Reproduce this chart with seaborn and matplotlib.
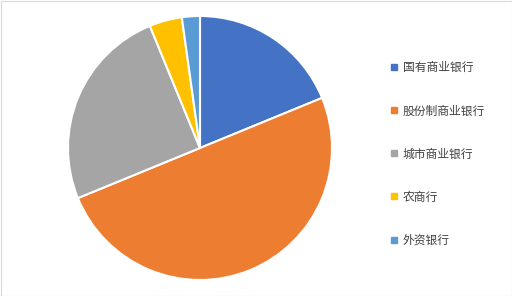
import matplotlib
matplotlib.use("Agg")
import matplotlib.pyplot as plt
import seaborn as sns
from matplotlib.patches import Rectangle
from matplotlib.lines import Line2D

categories = ["国有商业银行", "股份制商业银行", "城市商业银行", "农商行", "外资银行"]
values = [18.8, 50.0, 25.0, 4.0, 2.2]
colors = ["#4472C4", "#ED7D31", "#A5A5A5", "#FFC000", "#5B9BD5"]

sns.set_theme(style="white")
plt.rcParams['font.family'] = ['Noto Sans CJK SC', 'DejaVu Sans']

W, H = 512, 296
fig = plt.figure(figsize=(W / 100, H / 100), dpi=100)
fig.patch.set_facecolor("white")
fig.add_artist(Rectangle((0.5 / W, 0.5 / H), 1 - 1.0 / W, 1 - 1.0 / H,
                         transform=fig.transFigure, fill=False,
                         edgecolor="#D9D9D9", linewidth=0.8))

cx, cy, r = 200, 148, 132
ax = fig.add_axes([(cx - r) / W, (H - cy - r) / H, 2 * r / W, 2 * r / H])
palette = sns.color_palette(colors)
wedges, _ = ax.pie(values, colors=palette, startangle=90, counterclock=False,
                   radius=1.0, wedgeprops=dict(edgecolor="white", linewidth=1.5))
ax.set_xlim(-1, 1)
ax.set_ylim(-1, 1)
ax.set_aspect("auto")
ax.axis("off")

handles = [Line2D([0], [0], marker="s", linestyle="none", markersize=5,
                  markerfacecolor=c, markeredgecolor=c) for c in palette]
fig.legend(handles, categories, loc="center left",
           bbox_to_anchor=(385 / W, 1 - 154 / H), frameon=False,
           fontsize=8.5, handlelength=0.6, handletextpad=0.4,
           labelspacing=2.55, labelcolor="#404040", borderpad=0)

fig.savefig("out.png", dpi=100)
